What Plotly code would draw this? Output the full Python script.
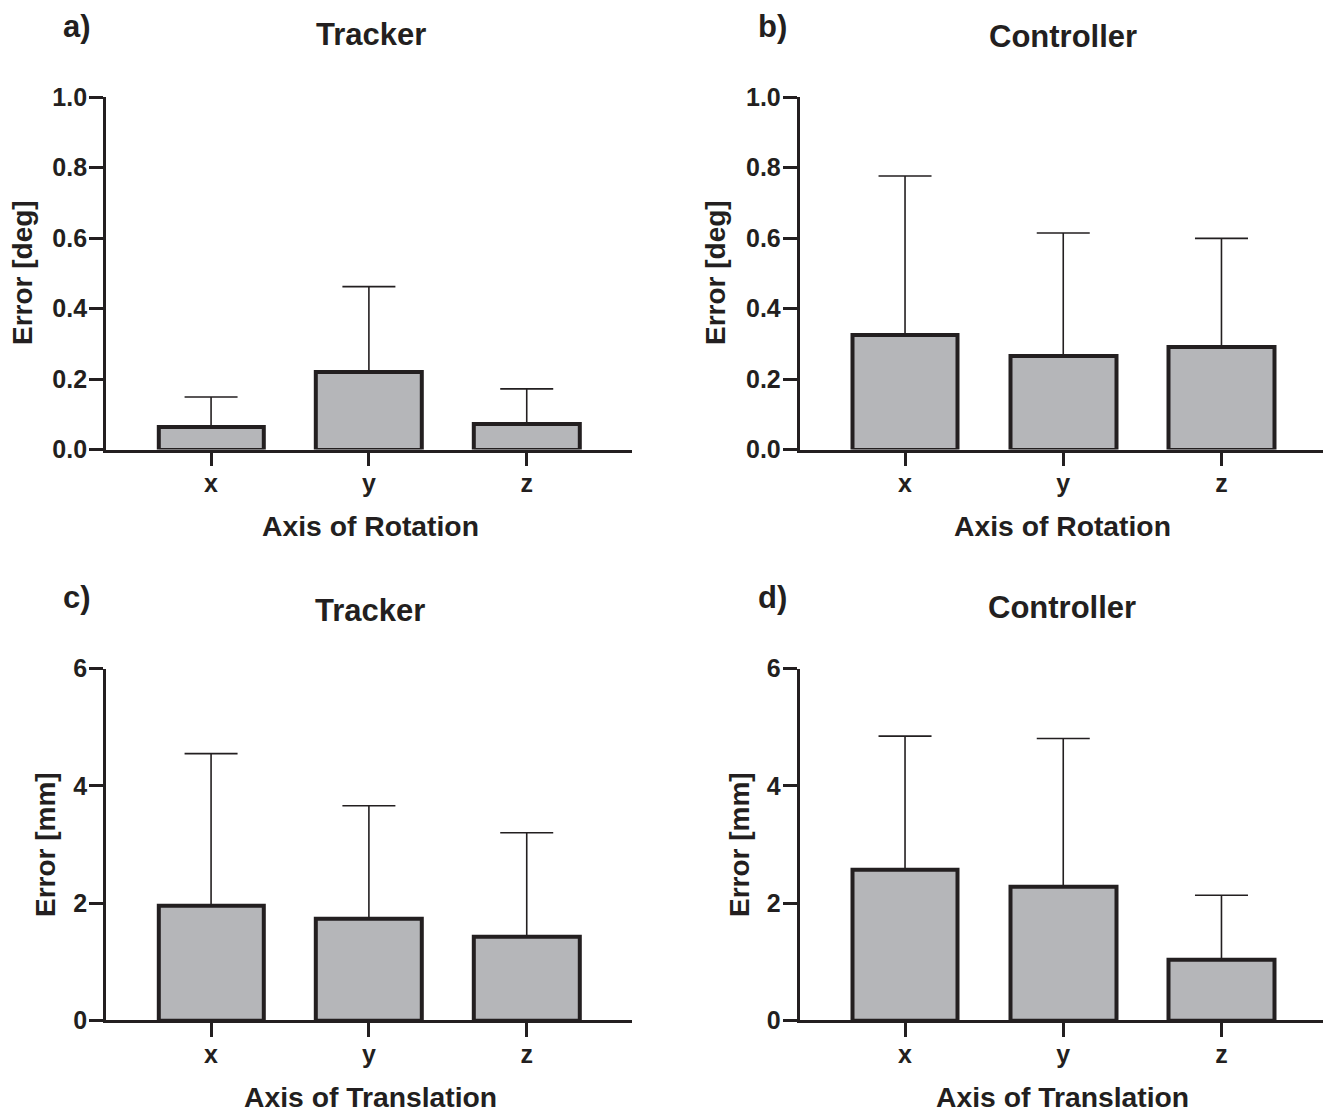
import plotly.graph_objects as go

W, H = 1331, 1111

categories = ["x", "y", "z"]

# Panel a) Tracker – rotation error [deg]
rot_tracker_mean = [0.064, 0.219, 0.072]
rot_tracker_sd = [0.085, 0.243, 0.100]
# Panel b) Controller – rotation error [deg]
rot_controller_mean = [0.326, 0.265, 0.292]
rot_controller_sd = [0.450, 0.349, 0.307]
# Panel c) Tracker – translation error [mm]
tr_tracker_mean = [1.95, 1.73, 1.43]
tr_tracker_sd = [2.60, 1.93, 1.77]
# Panel d) Controller – translation error [mm]
tr_controller_mean = [2.57, 2.28, 1.03]
tr_controller_sd = [2.28, 2.53, 1.105]

panel_labels = ["a)", "b)", "c)", "d)"]
panel_titles = ["Tracker", "Controller", "Tracker", "Controller"]
x_titles = ["Axis of Rotation", "Axis of Rotation", "Axis of Translation", "Axis of Translation"]
y_titles = ["Error [deg]", "Error [deg]", "Error [mm]", "Error [mm]"]
rot_ticks = [0.0, 0.2, 0.4, 0.6, 0.8, 1.0]
tr_ticks = [0, 2, 4, 6]

INK = "#231f20"
FILL = "#b5b6b9"
FONT = "Liberation Sans, Arial, Helvetica, sans-serif"

# map target screen pixel positions to paper coordinates (page offset compensated)
def px_x(p):
    return (p - 8) / 1331

def px_y(p):
    return 1 - (p - 22) / 1083

col_dom = [[px_x(105.8), px_x(632)], [px_x(799.5), px_x(1327)]]
row_dom = [[px_y(449.5), px_y(97)], [px_y(1020.3), px_y(668.7)]]

data = [
    (rot_tracker_mean, rot_tracker_sd),
    (rot_controller_mean, rot_controller_sd),
    (tr_tracker_mean, tr_tracker_sd),
    (tr_controller_mean, tr_controller_sd),
]

fig = go.Figure()
for i, (m, sd) in enumerate(data):
    n = "" if i == 0 else str(i + 1)
    fig.add_trace(go.Bar(
        x=categories, y=m,
        xaxis="x" + n, yaxis="y" + n,
        width=0.667,
        marker=dict(color=FILL, line=dict(color=INK, width=4)),
        error_y=dict(type="data", array=sd, arrayminus=[0] * len(sd), symmetric=False,
                     color=INK, thickness=1.6, width=26.5),
        showlegend=False,
    ))
    row, col = divmod(i, 2)
    rot = row == 0
    fig.layout["xaxis" + n] = dict(
        domain=col_dom[col], anchor="y" + n, type="category",
        range=[-0.667, 2.667], showline=True, linecolor=INK, linewidth=2.5,
        ticks="outside", ticklen=14, tickwidth=2.5, tickcolor=INK,
        ticklabelstandoff=-4,
        tickfont=dict(family=FONT, size=25, color=INK, weight="bold"),
        showgrid=False, zeroline=False, fixedrange=True,
    )
    fig.layout["yaxis" + n] = dict(
        domain=row_dom[row], anchor="x" + n,
        range=[0, 1.0] if rot else [0, 6],
        tickvals=rot_ticks if rot else tr_ticks,
        tickformat=".1f" if rot else "d",
        showline=True, linecolor=INK, linewidth=2.5,
        ticks="outside", ticklen=14, tickwidth=2.5, tickcolor=INK,
        ticklabelstandoff=-3,
        tickfont=dict(family=FONT, size=25, color=INK, weight="bold"),
        showgrid=False, zeroline=False, fixedrange=True,
    )

ann = []
label_pos = [(77, 27), (772, 27), (77, 597), (772, 597)]
title_pos = [(371, 34), (1063, 37), (370, 610), (1062, 607)]
xt_pos = [(370, 526), (1062, 526), (370, 1097), (1062, 1097)]
yt_pos = [(22, 273), (715, 273), (45, 845), (739, 845)]
for i in range(4):
    ann.append(dict(text=panel_labels[i], x=px_x(label_pos[i][0]), y=px_y(label_pos[i][1]),
                    font=dict(size=31, weight="bold")))
    ann.append(dict(text=panel_titles[i], x=px_x(title_pos[i][0]), y=px_y(title_pos[i][1]),
                    font=dict(size=31, weight="bold")))
    ann.append(dict(text=x_titles[i], x=px_x(xt_pos[i][0]), y=px_y(xt_pos[i][1]),
                    font=dict(size=28.3, weight="bold")))
    ann.append(dict(text=y_titles[i], x=px_x(yt_pos[i][0]), y=px_y(yt_pos[i][1]),
                    textangle=-90, font=dict(size=28, weight="bold")))
for a in ann:
    a.update(xref="paper", yref="paper", showarrow=False, xanchor="center", yanchor="middle")
    a["font"].update(family=FONT, color=INK)

fig.update_layout(
    width=W, height=H,
    margin=dict(l=0, r=0, t=0, b=0),
    paper_bgcolor="white", plot_bgcolor="white",
    annotations=ann,
    bargap=0,
)

fig.write_html("out.html")
